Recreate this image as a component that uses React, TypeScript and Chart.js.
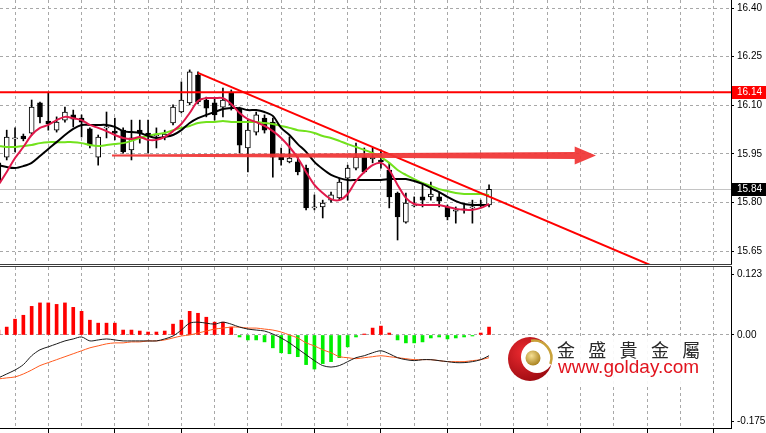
import React, { useEffect, useRef } from "react";
import { Chart, registerables } from "chart.js";

Chart.register(...registerables);

// ---------- DATA ----------
const opens = [15.922, 15.940, 15.996, 16.005, 16.014, 16.107, 16.051, 16.023, 16.054, 16.070,
  16.060, 16.027, 15.940, 16.030, 16.020, 16.023, 15.962, 16.023, 16.014, 16.005,
  16.002, 16.045, 16.079, 16.107, 16.193, 16.116, 16.107, 16.094, 16.138, 16.091,
  15.968, 16.017, 16.060, 16.048, 15.940, 15.925, 15.925, 15.906, 15.783, 15.786,
  15.807, 15.814, 15.875, 15.906, 15.940, 15.934, 15.931, 15.900, 15.829, 15.739,
  15.789, 15.817, 15.817, 15.817, 15.786, 15.773, 15.777, 15.783, 15.789, 15.792];
const highs = [15.937, 16.023, 16.030, 16.011, 16.116, 16.110, 16.138, 16.064, 16.094, 16.085,
  16.070, 16.030, 16.008, 16.079, 16.060, 16.030, 16.054, 16.054, 16.054, 16.030,
  16.023, 16.101, 16.172, 16.209, 16.203, 16.125, 16.122, 16.153, 16.147, 16.094,
  16.054, 16.079, 16.070, 16.060, 15.968, 16.002, 15.940, 15.915, 15.823, 15.807,
  15.832, 15.875, 15.915, 15.983, 15.968, 15.968, 15.962, 15.922, 15.832, 15.829,
  15.817, 15.860, 15.863, 15.829, 15.792, 15.786, 15.792, 15.807, 15.807, 15.854];
const lows = [15.829, 15.931, 15.956, 15.990, 16.008, 16.045, 16.023, 16.017, 16.048, 16.033,
  16.002, 15.968, 15.915, 15.999, 15.993, 15.952, 15.931, 15.983, 15.952, 15.968,
  15.993, 16.039, 16.076, 16.101, 16.104, 16.064, 16.054, 16.064, 16.085, 15.952,
  15.894, 16.008, 16.014, 15.878, 15.915, 15.922, 15.885, 15.777, 15.777, 15.752,
  15.801, 15.807, 15.807, 15.900, 15.891, 15.922, 15.906, 15.783, 15.684, 15.736,
  15.786, 15.786, 15.807, 15.786, 15.746, 15.736, 15.767, 15.736, 15.783, 15.786];
const closes = [15.860, 16.002, 15.999, 15.996, 16.094, 16.064, 16.042, 16.048, 16.079, 16.057,
  16.048, 15.977, 16.002, 16.033, 16.014, 15.956, 15.999, 16.014, 16.005, 16.008,
  16.011, 16.094, 16.116, 16.203, 16.110, 16.091, 16.070, 16.116, 16.101, 15.977,
  16.023, 16.070, 16.023, 15.940, 15.931, 15.937, 15.894, 15.783, 15.786, 15.798,
  15.823, 15.863, 15.906, 15.940, 15.894, 15.940, 15.925, 15.817, 15.755, 15.798,
  15.792, 15.807, 15.826, 15.804, 15.755, 15.777, 15.780, 15.786, 15.795, 15.840];

const maFast = [15.854, 15.894, 15.937, 15.971, 16.008, 16.030, 16.039, 16.054, 16.064, 16.060,
  16.054, 16.039, 16.030, 16.020, 16.008, 15.999, 15.996, 16.002, 15.993, 15.993,
  16.002, 16.020, 16.042, 16.076, 16.113, 16.122, 16.122, 16.122, 16.104, 16.076,
  16.057, 16.048, 16.036, 16.020, 15.999, 15.971, 15.937, 15.894, 15.854, 15.829,
  15.810, 15.807, 15.826, 15.866, 15.894, 15.915, 15.922, 15.900, 15.854, 15.814,
  15.795, 15.792, 15.792, 15.792, 15.786, 15.780, 15.777, 15.777, 15.783, 15.795];
const maMid = [15.915, 15.909, 15.906, 15.912, 15.922, 15.943, 15.965, 15.986, 16.008, 16.027,
  16.039, 16.039, 16.039, 16.039, 16.033, 16.020, 16.017, 16.014, 16.005, 15.999,
  16.002, 16.008, 16.023, 16.045, 16.060, 16.070, 16.079, 16.088, 16.091, 16.091,
  16.085, 16.085, 16.079, 16.067, 16.030, 16.008, 15.980, 15.956, 15.925, 15.903,
  15.885, 15.875, 15.869, 15.869, 15.869, 15.869, 15.869, 15.872, 15.872, 15.872,
  15.866, 15.857, 15.844, 15.832, 15.817, 15.804, 15.795, 15.792, 15.792, 15.792];
const maSlow = [15.974, 15.971, 15.971, 15.974, 15.977, 15.983, 15.986, 15.986, 15.986, 15.986,
  15.983, 15.977, 15.974, 15.977, 15.980, 15.983, 15.990, 15.999, 16.005, 16.011,
  16.014, 16.023, 16.030, 16.036, 16.045, 16.048, 16.048, 16.051, 16.048, 16.048,
  16.048, 16.048, 16.045, 16.042, 16.036, 16.030, 16.023, 16.020, 16.014, 16.005,
  15.999, 15.990, 15.980, 15.971, 15.962, 15.952, 15.940, 15.922, 15.900, 15.885,
  15.872, 15.860, 15.851, 15.841, 15.835, 15.829, 15.826, 15.826, 15.826, 15.823];

const macdHist = [0.010, 0.016, 0.032, 0.040, 0.058, 0.065, 0.065, 0.062, 0.065, 0.056,
  0.048, 0.030, 0.024, 0.024, 0.024, 0.010, 0.010, 0.008, 0.006, 0.006,
  0.008, 0.022, 0.030, 0.048, 0.044, 0.036, 0.026, 0.026, 0.016, -0.004,
  -0.010, -0.010, -0.014, -0.026, -0.036, -0.038, -0.044, -0.060, -0.069, -0.058,
  -0.054, -0.046, -0.024, -0.004, 0.002, 0.014, 0.018, 0.004, -0.010, -0.016,
  -0.016, -0.014, -0.006, -0.004, -0.008, -0.006, -0.004, -0.002, 0.004, 0.016];
const macdMain = [-0.087, -0.079, -0.071, -0.060, -0.042, -0.030, -0.024, -0.018, -0.012, -0.008,
  -0.004, -0.012, -0.010, -0.008, -0.010, -0.012, -0.012, -0.012, -0.012, -0.012,
  -0.008, -0.002, 0.010, 0.024, 0.026, 0.024, 0.022, 0.026, 0.022, 0.016,
  0.012, 0.010, 0.008, 0.002, -0.006, -0.016, -0.028, -0.040, -0.052, -0.062,
  -0.065, -0.062, -0.054, -0.046, -0.042, -0.036, -0.032, -0.038, -0.046, -0.050,
  -0.052, -0.050, -0.050, -0.052, -0.054, -0.056, -0.056, -0.054, -0.050, -0.042];
const macdSignal = [-0.089, -0.087, -0.085, -0.079, -0.071, -0.062, -0.056, -0.050, -0.044, -0.038,
  -0.032, -0.026, -0.022, -0.018, -0.016, -0.016, -0.014, -0.014, -0.012, -0.012,
  -0.010, -0.006, -0.002, 0.000, 0.004, 0.008, 0.012, 0.014, 0.016, 0.016,
  0.014, 0.014, 0.012, 0.010, 0.006, 0.000, -0.006, -0.016, -0.022, -0.030,
  -0.036, -0.044, -0.046, -0.048, -0.046, -0.044, -0.042, -0.044, -0.046, -0.048,
  -0.050, -0.050, -0.050, -0.052, -0.054, -0.054, -0.054, -0.052, -0.050, -0.046];

const priceTicks = [16.40, 16.25, 16.10, 15.95, 15.80, 15.65];
const macdTicks = [0.123, 0, -0.175];
const gridSlots = [2, 6, 10, 14, 18, 22, 26, 30, 34, 38, 42, 46, 50, 54, 58, 62, 66, 70, 74, 78, 82, 86];
const resistance = 16.14;
const lastPrice = 15.84;
const trendLine = [{ x: 24, y: 16.200 }, { x: 86.8, y: 15.515 }];
const arrowLevel = 15.945;
const arrowFrom = 13.66;
const arrowHeadBase = 69.3;
const arrowTip = 71.86;

// scale ranges
const xMin = 0.192;
const xMax = 88.095;
const priceMin = 15.6099;
const priceMax = 16.4247;
const macdMin = -0.1885;
const macdMax = 0.1378;
const AXIS_W = 35;

const slots = opens.map((_, i) => i);
const tickFont = { family: '"Liberation Sans", Arial, sans-serif', size: 10 };
const GRID = "#a8a8a8";

const mainOverlay = {
  id: "mainOverlay",
  beforeDatasetsDraw(chart: any) {
    const { ctx, chartArea, scales } = chart;
    const py = Math.round(scales.y.getPixelForValue(lastPrice)) + 0.5;
    ctx.save();
    ctx.strokeStyle = "#c4c4c4";
    ctx.lineWidth = 1;
    ctx.beginPath();
    ctx.moveTo(chartArea.left, py);
    ctx.lineTo(chartArea.right, py);
    ctx.stroke();
    ctx.restore();
  },
  afterDatasetsDraw(chart: any) {
    const { ctx, chartArea, scales } = chart;
    const { x, y } = scales;
    ctx.save();
    ctx.beginPath();
    ctx.rect(chartArea.left, chartArea.top, chartArea.right - chartArea.left, chartArea.bottom - chartArea.top);
    ctx.clip();
    const ry = y.getPixelForValue(resistance);
    ctx.strokeStyle = "#ff0000";
    ctx.lineWidth = 2;
    ctx.beginPath();
    ctx.moveTo(chartArea.left, ry);
    ctx.lineTo(chartArea.right, ry);
    ctx.stroke();
    const ay = y.getPixelForValue(arrowLevel);
    const a0 = x.getPixelForValue(arrowFrom);
    const ah = x.getPixelForValue(arrowHeadBase);
    const at = x.getPixelForValue(arrowTip);
    ctx.fillStyle = "rgba(240,52,52,0.93)";
    ctx.beginPath();
    ctx.moveTo(a0, ay - 1);
    ctx.lineTo(ah, ay - 3.5);
    ctx.lineTo(ah, ay - 9);
    ctx.lineTo(at, ay);
    ctx.lineTo(ah, ay + 9);
    ctx.lineTo(ah, ay + 3.5);
    ctx.lineTo(a0, ay + 1);
    ctx.closePath();
    ctx.fill();
    ctx.restore();
  },
  afterDraw(chart: any) {
    const { ctx, chartArea, scales } = chart;
    const tag = (val: number, bg: string) => {
      const py = Math.round(scales.y.getPixelForValue(val));
      ctx.save();
      ctx.fillStyle = bg;
      ctx.fillRect(chartArea.right + 1, py - 6, chart.width - chartArea.right - 1, 13);
      ctx.fillStyle = "#ffffff";
      ctx.font = '10px "Liberation Sans", Arial, sans-serif';
      ctx.textBaseline = "middle";
      ctx.textAlign = "left";
      ctx.fillText(val.toFixed(2), chartArea.right + 6, py + 0.5);
      ctx.restore();
    };
    tag(resistance, "#ff0000");
    tag(lastPrice, "#000000");
  },
};

const macdOverlay = {
  id: "macdOverlay",
  afterDraw(chart: any) {
    const { ctx, chartArea } = chart;
    ctx.save();
    ctx.fillStyle = "#3c3c3c";
    ctx.fillRect(0, 0, chartArea.right + 1, 1);
    ctx.fillRect(0, 2, chartArea.right + 1, 1);
    ctx.restore();
  },
};

function buildMain(canvas: HTMLCanvasElement) {
  return new Chart(canvas, {
    type: "bar",
    data: {
      datasets: [
        { type: "line", data: trendLine, borderColor: "#ff0000", borderWidth: 2, pointRadius: 0, order: 1 },
        { type: "line", data: slots.map((i) => ({ x: i, y: maFast[i] })), borderColor: "#e0184a", borderWidth: 2, pointRadius: 0, tension: 0.3, order: 2 },
        { type: "line", data: slots.map((i) => ({ x: i, y: maMid[i] })), borderColor: "#000000", borderWidth: 2, pointRadius: 0, tension: 0.3, order: 3 },
        { type: "line", data: slots.map((i) => ({ x: i, y: maSlow[i] })), borderColor: "#72e21c", borderWidth: 2, pointRadius: 0, tension: 0.3, order: 4 },
        {
          type: "bar",
          data: slots.map((i) => ({ x: i, y: [opens[i], closes[i]] })),
          backgroundColor: slots.map((i) => (closes[i] >= opens[i] ? "#ffffff" : "#000000")),
          borderColor: "#000000",
          borderWidth: 1,
          borderSkipped: false,
          barThickness: 5,
          grouped: false,
          order: 10,
        },
        {
          type: "bar",
          data: slots.map((i) => ({ x: i, y: [lows[i], highs[i]] })),
          backgroundColor: "#000000",
          barThickness: 1,
          grouped: false,
          order: 11,
        },
      ],
    } as any,
    options: {
      animation: false,
      responsive: false,
      devicePixelRatio: 1,
      events: [],
      layout: { padding: 0, autoPadding: false },
      plugins: { legend: { display: false }, tooltip: { enabled: false } },
      scales: {
        x: {
          type: "linear",
          min: xMin,
          max: xMax,
          offset: false,
          afterBuildTicks: (s: any) => { s.ticks = gridSlots.map((v) => ({ value: v })); },
          ticks: { display: false },
          grid: { color: GRID, drawTicks: false, offset: false },
          border: { display: false, dash: [3, 3] },
        },
        y: {
          type: "linear",
          position: "right",
          min: priceMin,
          max: priceMax,
          afterBuildTicks: (s: any) => { s.ticks = priceTicks.map((v) => ({ value: v })); },
          afterFit: (s: any) => { s.width = AXIS_W; s.paddingTop = 0; s.paddingBottom = 0; },
          ticks: { callback: (v: any) => Number(v).toFixed(2), font: tickFont, color: "#000", padding: 3, autoSkip: false },
          grid: { color: GRID, tickColor: "#000", tickLength: 3, tickBorderDash: [] },
          border: { display: true, color: "#000", width: 1, dash: [3, 3] },
        },
      },
    } as any,
    plugins: [mainOverlay],
  });
}

function buildMacd(canvas: HTMLCanvasElement) {
  return new Chart(canvas, {
    type: "bar",
    data: {
      datasets: [
        { type: "line", data: slots.map((i) => ({ x: i, y: macdMain[i] })), borderColor: "#1a1a1a", borderWidth: 1, pointRadius: 0, tension: 0.3, order: 1 },
        { type: "line", data: slots.map((i) => ({ x: i, y: macdSignal[i] })), borderColor: "#ff5a1e", borderWidth: 1, pointRadius: 0, tension: 0.3, order: 2 },
        {
          type: "bar",
          data: slots.map((i) => ({ x: i, y: macdHist[i] })),
          backgroundColor: slots.map((i) => (macdHist[i] >= 0 ? "#ff0000" : "#00ee00")),
          barThickness: 3,
          grouped: false,
          order: 10,
        },
      ],
    } as any,
    options: {
      animation: false,
      responsive: false,
      devicePixelRatio: 1,
      events: [],
      layout: { padding: { top: 3, left: 0, right: 0, bottom: 0 }, autoPadding: false },
      plugins: { legend: { display: false }, tooltip: { enabled: false } },
      scales: {
        x: {
          type: "linear",
          min: xMin,
          max: xMax,
          offset: false,
          afterBuildTicks: (s: any) => { s.ticks = gridSlots.map((v) => ({ value: v })); },
          ticks: { display: false },
          grid: {
            color: GRID,
            drawTicks: true,
            tickLength: 5,
            tickBorderDash: [],
            tickColor: (c: any) => (c.index % 2 === 1 ? "#000" : "rgba(0,0,0,0)"),
            offset: false,
          },
          border: { display: true, color: "#000", width: 1, dash: [3, 3] },
        },
        y: {
          type: "linear",
          position: "right",
          min: macdMin,
          max: macdMax,
          afterBuildTicks: (s: any) => { s.ticks = macdTicks.map((v) => ({ value: v })); },
          afterFit: (s: any) => { s.width = AXIS_W; s.paddingTop = 0; s.paddingBottom = 0; },
          ticks: { callback: (v: any) => (Number(v) === 0 ? "0.00" : String(v)), font: tickFont, color: "#000", padding: 3, autoSkip: false },
          grid: {
            color: (c: any) => (c.tick && c.tick.value === 0 ? GRID : "rgba(0,0,0,0)"),
            tickColor: "#000",
            tickLength: 3,
            tickBorderDash: [],
          },
          border: { display: true, color: "#000", width: 1, dash: [3, 3] },
        },
      },
    } as any,
    plugins: [macdOverlay],
  });
}

export default function App() {
  const mainRef = useRef<HTMLCanvasElement>(null);
  const macdRef = useRef<HTMLCanvasElement>(null);

  useEffect(() => {
    const c1 = buildMain(mainRef.current as HTMLCanvasElement);
    const c2 = buildMacd(macdRef.current as HTMLCanvasElement);
    return () => {
      c1.destroy();
      c2.destroy();
    };
  }, []);

  return (
    <div style={{ position: "fixed", left: 0, top: 0, width: 766, height: 433, background: "#fff", overflow: "hidden" }}>
      <canvas ref={mainRef} width={766} height={264} style={{ position: "absolute", left: 0, top: 0, width: 766, height: 264 }} />
      <canvas ref={macdRef} width={766} height={169} style={{ position: "absolute", left: 0, top: 264, width: 766, height: 169 }} />
      <div style={{ position: "absolute", left: 503, top: 337, width: 205, height: 47, background: "rgba(255,255,255,0.9)" }} />
      <svg style={{ position: "absolute", left: 500, top: 334 }} width={60} height={52} viewBox="0 0 60 52">
        <defs>
          <radialGradient id="redBall" cx="0.35" cy="0.35" r="0.75">
            <stop offset="0" stopColor="#ec2a30" />
            <stop offset="1" stopColor="#98090f" />
          </radialGradient>
          <radialGradient id="goldBall" cx="0.4" cy="0.35" r="0.7">
            <stop offset="0" stopColor="#f6e094" />
            <stop offset="1" stopColor="#a57d18" />
          </radialGradient>
        </defs>
        <circle cx={30} cy={25} r={22} fill="url(#redBall)" />
        <circle cx={37} cy={23} r={16} fill="#ffffff" />
        <circle cx={33} cy={24} r={7.5} fill="url(#goldBall)" />
        <path d="M 31 6.8 A 17.5 17.5 0 0 1 50.4 30" stroke="#c9a23a" strokeWidth={2.5} fill="none" />
      </svg>
      <div
        style={{
          position: "absolute",
          left: 557,
          top: 340,
          fontFamily: '"Noto Sans CJK TC", "Noto Sans CJK SC", sans-serif',
          fontSize: 18,
          lineHeight: "18px",
          letterSpacing: "13.3px",
          color: "#2a2a2a",
          whiteSpace: "nowrap",
        }}
      >
        金盛貴金屬
      </div>
      <div
        style={{
          position: "absolute",
          left: 558,
          top: 357,
          fontFamily: '"Liberation Sans", Arial, sans-serif',
          fontSize: 19,
          lineHeight: "19px",
          color: "#e1141e",
          whiteSpace: "nowrap",
        }}
      >
        www.golday.com
      </div>
    </div>
  );
}
